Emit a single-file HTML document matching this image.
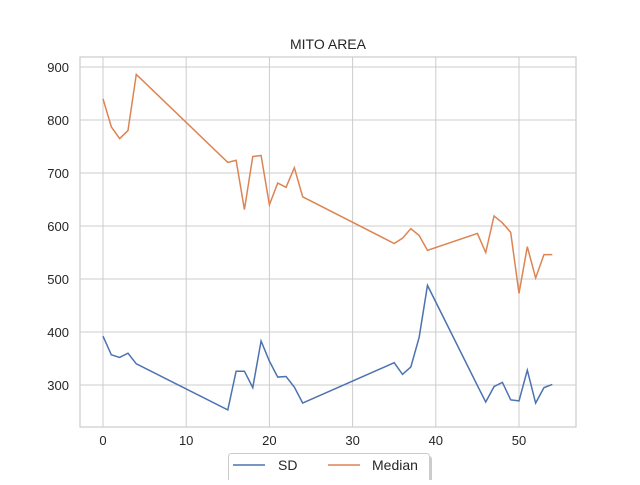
<!DOCTYPE html>
<html><head><meta charset="utf-8"><style>
body{margin:0;background:#fff;font-family:"Liberation Sans",Arial,sans-serif}
</style></head><body>
<svg width="640" height="480" xmlns="http://www.w3.org/2000/svg">
<g id="grid"></g>
<g id="series"></g>
<text x="328" y="49" text-anchor="middle" font-size="14" fill="#262626">MITO AREA</text>
<g>
<rect x="231" y="456" width="201" height="30" rx="3" fill="#999" opacity="0.5"/>
<rect x="228.5" y="453.5" width="201" height="30" rx="3" fill="#fff" stroke="#ccc"/>
<line x1="233" y1="465" x2="265" y2="465" stroke="#4c72b0" stroke-width="1.5"/>
<text x="278" y="470" font-size="14" fill="#262626">SD</text>
<line x1="328" y1="465" x2="360" y2="465" stroke="#dd8452" stroke-width="1.5"/>
<text x="372" y="470" font-size="14" fill="#262626">Median</text>
</g>
</svg>
<script>
const xs=[0,1,2,3,4,15,16,17,18,19,20,21,22,23,24,35,36,37,38,39,45,46,47,48,49,50,51,52,53,54];
const median=[840,787,765,780,886,720,724,631,731,733,640,681,673,710,655,567,577,595,582,554,586,550,619,606,588,473,561,502,546,546];
const sd=[392,357,352,360,340,253,326,326,295,383,345,315,316,296,266,342,320,334,390,488,299,268,297,305,272,270,328,266,295,301];
const xTicks=[0,10,20,30,40,50];
const yTicks=[300,400,500,600,700,800,900];
const L=80,R=576,T=57,B=427;
function sx(v){return 103+v*8.32;}
function sy(v){return 385-(v-300)*0.53;}
const NS="http://www.w3.org/2000/svg";
const g=document.getElementById('grid');
function mk(tag,attrs,parent){const e=document.createElementNS(NS,tag);for(const k in attrs)e.setAttribute(k,attrs[k]);parent.appendChild(e);return e;}
xTicks.forEach(t=>{
 const l=mk('line',{x1:sx(t),x2:sx(t),y1:T,y2:B,stroke:'#cccccc','stroke-width':1},g);
 
 
 const tx=mk('text',{x:sx(t),y:B+18,'text-anchor':'middle','font-size':13,fill:'#262626'},g);
 tx.textContent=t;
 
 
});
yTicks.forEach(t=>{
 const l=mk('line',{x1:L,x2:R,y1:sy(t),y2:sy(t),stroke:'#cccccc','stroke-width':1},g);
 
 
 const tx=mk('text',{x:L-11,y:sy(t)+5,'text-anchor':'end','font-size':13,fill:'#262626'},g);
 tx.textContent=t;
 
 
});
const fr=mk('rect',{x:L,y:T,width:R-L,height:B-T,fill:'none',stroke:'#cccccc','stroke-width':1.2},g);


const s=document.getElementById('series');
function line(vals,color,name){
 const p=mk('polyline',{points:xs.map((x,i)=>sx(x)+','+sy(vals[i])).join(' '),fill:'none',stroke:color,'stroke-width':1.5},s);
 
 
}
line(sd,'#4c72b0','sd-line');
line(median,'#dd8452','median-line');
</script>
</body></html>
